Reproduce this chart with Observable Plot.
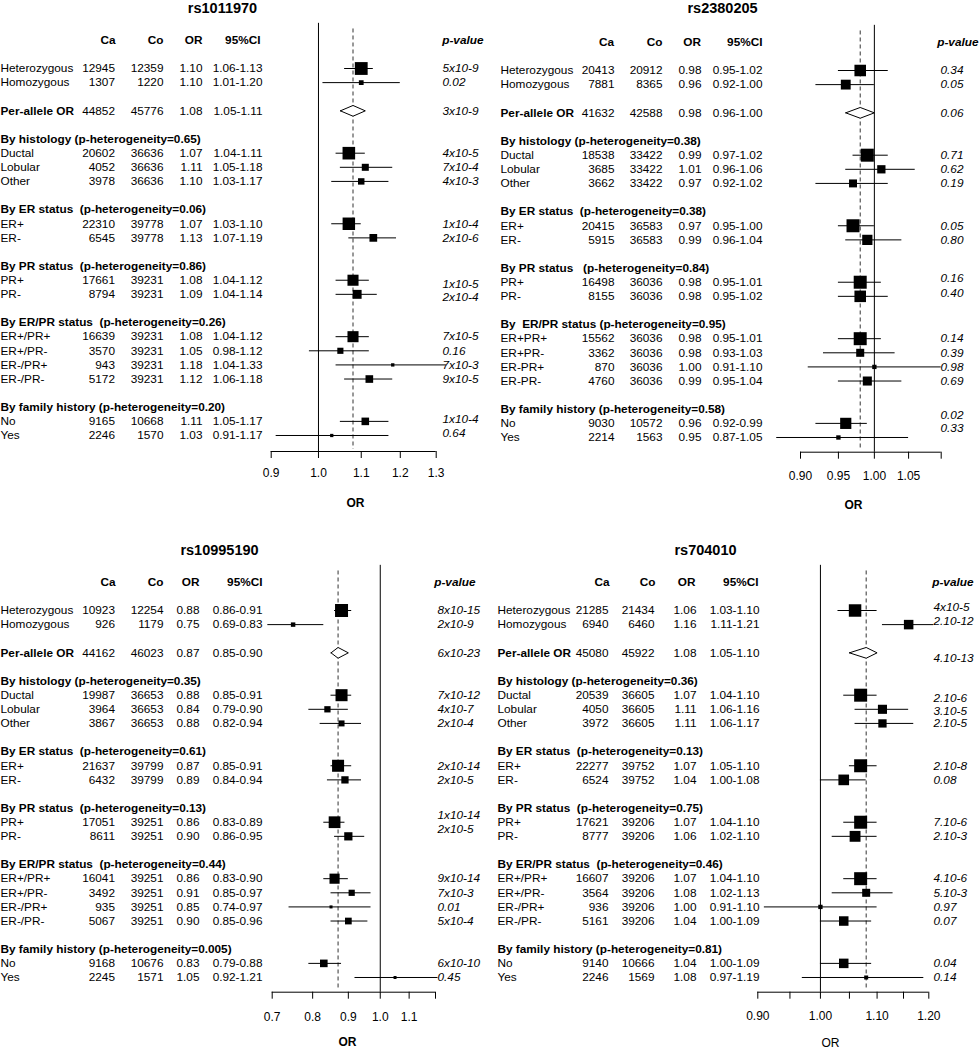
<!DOCTYPE html>
<html>
<head>
<meta charset="utf-8">
<script src="https://cdn.jsdelivr.net/npm/d3@7"></script>
<script src="https://cdn.jsdelivr.net/npm/@observablehq/plot@0.6"></script>
<style>
  body { margin: 0; background: #fff; }
  #root { position: relative; width: 979px; height: 1050px; overflow: hidden; background: #fff; }
  #root svg { position: absolute; }
</style>
</head>
<body>
<div id="root"></div>
<script>
// ---------------- DATA ----------------
// group structure: [Het/Hom], [Per-allele], histology, ER, PR, ER/PR, family history
const groupSizes = [2, 1, 3, 2, 2, 4, 2];

// Panel 1: rs1011970
const snp1 = "rs1011970";
const labels1 = ["Heterozygous","Homozygous","Per-allele OR","Ductal","Lobular","Other","ER+","ER-","PR+","PR-","ER+/PR+","ER+/PR-","ER-/PR+","ER-/PR-","No","Yes"];
const headers1 = ["By histology (p-heterogeneity=0.65)","By ER status\u00a0 (p-heterogeneity=0.06)","By PR status\u00a0 (p-heterogeneity=0.86)","By ER/PR status\u00a0 (p-heterogeneity=0.26)","By family history (p-heterogeneity=0.20)"];
const ca1 = [12945,1307,44852,20602,4052,3978,22310,6545,17661,8794,16639,3570,943,5172,9165,2246];
const co1 = [12359,1220,45776,36636,36636,36636,39778,39778,39231,39231,39231,39231,39231,39231,10668,1570];
const or1 = [1.10,1.10,1.08,1.07,1.11,1.10,1.07,1.13,1.08,1.09,1.08,1.05,1.18,1.12,1.11,1.03];
const lo1 = [1.06,1.01,1.05,1.04,1.05,1.03,1.03,1.07,1.04,1.04,1.04,0.98,1.04,1.06,1.05,0.91];
const hi1 = [1.13,1.20,1.11,1.11,1.18,1.17,1.10,1.19,1.12,1.14,1.12,1.12,1.33,1.18,1.17,1.17];
const p1 = ["5x10-9","0.02","3x10-9","4x10-5","7x10-4","4x10-3","1x10-4","2x10-6","1x10-5","2x10-4","7x10-5","0.16","7x10-3","9x10-5","1x10-4","0.64"];
const ticks1 = [0.9, 1.0, 1.1, 1.2, 1.3];
const tickLabels1 = ["0.9","1.0","1.1","1.2","1.3"];

// Panel 2: rs2380205
const snp2 = "rs2380205";
const labels2 = ["Heterozygous","Homozygous","Per-allele OR","Ductal","Lobular","Other","ER+","ER-","PR+","PR-","ER+PR+","ER+PR-","ER-PR+","ER-PR-","No","Yes"];
const headers2 = ["By histology (p-heterogeneity=0.38)","By ER status\u00a0 (p-heterogeneity=0.38)","By PR status\u00a0\u00a0 (p-heterogeneity=0.84)","By\u00a0 ER/PR status (p-heterogeneity=0.95)","By family history (p-heterogeneity=0.58)"];
const ca2 = [20413,7881,41632,18538,3685,3662,20415,5915,16498,8155,15562,3362,870,4760,9030,2214];
const co2 = [20912,8365,42588,33422,33422,33422,36583,36583,36036,36036,36036,36036,36036,36036,10572,1563];
const or2 = [0.98,0.96,0.98,0.99,1.01,0.97,0.97,0.99,0.98,0.98,0.98,0.98,1.00,0.99,0.96,0.95];
const lo2 = [0.95,0.92,0.96,0.97,0.96,0.92,0.95,0.96,0.95,0.95,0.95,0.93,0.91,0.95,0.92,0.87];
const hi2 = [1.02,1.00,1.00,1.02,1.06,1.02,1.00,1.04,1.01,1.02,1.01,1.03,1.10,1.04,0.99,1.05];
const p2 = ["0.34","0.05","0.06","0.71","0.62","0.19","0.05","0.80","0.16","0.40","0.14","0.39","0.98","0.69","0.02","0.33"];
const ticks2 = [0.90, 0.95, 1.00, 1.05, 1.10];
const tickLabels2 = ["0.90","0.95","1.00","1.05",""];

// Panel 3: rs10995190
const snp3 = "rs10995190";
const labels3 = ["Heterozygous","Homozygous","Per-allele OR","Ductal","Lobular","Other","ER+","ER-","PR+","PR-","ER+/PR+","ER+/PR-","ER-/PR+","ER-/PR-","No","Yes"];
const headers3 = ["By histology (p-heterogeneity=0.35)","By ER status\u00a0 (p-heterogeneity=0.61)","By PR status\u00a0 (p-heterogeneity=0.13)","By ER/PR status\u00a0 (p-heterogeneity=0.44)","By family history (p-heterogeneity=0.005)"];
const ca3 = [10923,926,44162,19987,3964,3867,21637,6432,17051,8611,16041,3492,935,5067,9168,2245];
const co3 = [12254,1179,46023,36653,36653,36653,39799,39799,39251,39251,39251,39251,39251,39251,10676,1571];
const or3 = [0.88,0.75,0.87,0.88,0.84,0.88,0.87,0.89,0.86,0.90,0.86,0.91,0.85,0.90,0.83,1.05];
const lo3 = [0.86,0.69,0.85,0.85,0.79,0.82,0.85,0.84,0.83,0.86,0.83,0.85,0.74,0.85,0.79,0.92];
const hi3 = [0.91,0.83,0.90,0.91,0.90,0.94,0.91,0.94,0.89,0.95,0.90,0.97,0.97,0.96,0.88,1.21];
const p3 = ["8x10-15","2x10-9","6x10-23","7x10-12","4x10-7","2x10-4","2x10-14","2x10-5","1x10-14","2x10-5","9x10-14","7x10-3","0.01","5x10-4","6x10-10","0.45"];
const ticks3 = [0.7, 0.8, 0.9, 1.0, 1.1, 1.2];
const tickLabels3 = ["0.7","0.8","0.9","1.0","1.1",""];

// Panel 4: rs704010
const snp4 = "rs704010";
const labels4 = ["Heterozygous","Homozygous","Per-allele OR","Ductal","Lobular","Other","ER+","ER-","PR+","PR-","ER+/PR+","ER+/PR-","ER-/PR+","ER-/PR-","No","Yes"];
const headers4 = ["By histology (p-heterogeneity=0.36)","By ER status\u00a0 (p-heterogeneity=0.13)","By PR status\u00a0 (p-heterogeneity=0.75)","By ER/PR status\u00a0 (p-heterogeneity=0.46)","By family history (p-heterogeneity=0.81)"];
const ca4 = [21285,6940,45080,20539,4050,3972,22277,6524,17621,8777,16607,3564,936,5161,9140,2246];
const co4 = [21434,6460,45922,36605,36605,36605,39752,39752,39206,39206,39206,39206,39206,39206,10666,1569];
const or4 = [1.06,1.16,1.08,1.07,1.11,1.11,1.07,1.04,1.07,1.06,1.07,1.08,1.00,1.04,1.04,1.08];
const lo4 = [1.03,1.11,1.05,1.04,1.06,1.06,1.05,1.00,1.04,1.02,1.04,1.02,0.91,1.00,1.00,0.97];
const hi4 = [1.10,1.21,1.10,1.10,1.16,1.17,1.10,1.08,1.10,1.10,1.10,1.13,1.10,1.09,1.09,1.19];
const p4 = ["4x10-5","2.10-12","4.10-13","2.10-6","3.10-5","2.10-5","2.10-8","0.08","7.10-6","2.10-3","4.10-6","5.10-3","0.97","0.07","0.04","0.14"];
const ticks4 = [0.90, 0.95, 1.00, 1.05, 1.10, 1.15, 1.20];
const tickLabels4 = ["0.90","","1.00","","1.10","","1.20"];

// ---------------- LAYOUT ----------------
const FONT = '"Liberation Sans", Arial, Helvetica, sans-serif';
const FS = 11.8;
// pNudge: per-row vertical pixel shift of the p-value column (as typeset in the original figure)
const layouts = [
  {left: 0, top: 0, w: 490, h: 542, y0: 68, axisPx: 451, xr: [270.7, 435.7], labOff: 21.7,
   title: [222, 8], orLab: [355, 503], orBold: true,
   cols: {label: 0, ca: 114.5, co: 163, or: 202, ci: 262}, hdr: {ca: 115, co: 163, or: 202, ci: 260},
   pHead: 483, pX: 442, pAnchor: "start",
   pNudge: [0,0,0,0,0,0,0,0,4,3,0,0,0,0,-2,-2]},
  {left: 490, top: 0, w: 489, h: 542, y0: 70, axisPx: 451.7, xr: [310, 450.7], labOff: 24.3,
   title: [232, 8], orLab: [363, 505], orBold: true,
   cols: {label: 10, ca: 124, co: 172, or: 211, ci: 272}, hdr: {ca: 123.5, co: 172, or: 210.5, ci: 272},
   pHead: 488, pX: 473, pAnchor: "end",
   pNudge: [0,0,0,0,0,0,0,0,-4,-3,0,0,0,0,-8,-9]},
  {left: 0, top: 542, w: 490, h: 508, y0: 68, axisPx: 449.7, xr: [271.7, 435], labOff: 25,
   title: [219, 8], orLab: [347, 500], orBold: true,
   cols: {label: 0, ca: 114.5, co: 163, or: 199, ci: 262}, hdr: {ca: 115, co: 163, or: 199, ci: 262},
   pHead: 475, pX: 437, pAnchor: "start",
   pNudge: [0,0,0,0,0,0,0,0,-7,-7,0,0,0,0,0,0]},
  {left: 490, top: 542, w: 489, h: 508, y0: 68, axisPx: 449.7, xr: [267.3, 438.3], labOff: 24.3,
   title: [215, 8], orLab: [340, 500.5], orBold: false,
   cols: {label: 7, ca: 118, co: 164, or: 206, ci: 269}, hdr: {ca: 119, co: 165, or: 205, ci: 268},
   pHead: 483, pX: 443, pAnchor: "start",
   pNudge: [-3,-3,5,3,2,0,0,0,0,0,0,0,0,0,0,0]}
];
const STEP = 14.115;
const TICK = 7;

const panels = [
  {snp: snp1, labels: labels1, headers: headers1, ca: ca1, co: co1, or: or1, lo: lo1, hi: hi1, p: p1, ticks: ticks1, tickLabels: tickLabels1},
  {snp: snp2, labels: labels2, headers: headers2, ca: ca2, co: co2, or: or2, lo: lo2, hi: hi2, p: p2, ticks: ticks2, tickLabels: tickLabels2},
  {snp: snp3, labels: labels3, headers: headers3, ca: ca3, co: co3, or: or3, lo: lo3, hi: hi3, p: p3, ticks: ticks3, tickLabels: tickLabels3},
  {snp: snp4, labels: labels4, headers: headers4, ca: ca4, co: co4, or: or4, lo: lo4, hi: hi4, p: p4, ticks: ticks4, tickLabels: tickLabels4}
];

function buildRows(d) {
  const rows = [], heads = [];
  let r = 0, k = 0;
  groupSizes.forEach((n, g) => {
    if (g >= 2) { heads.push({row: r, text: d.headers[g - 2]}); r++; }
    for (let i = 0; i < n; i++, k++, r++) {
      rows.push({k, row: r, label: d.labels[k], ca: d.ca[k], co: d.co[k], or: d.or[k],
                 lo: d.lo[k], hi: d.hi[k], p: d.p[k], pooled: g === 1});
    }
    r++;
  });
  return {rows, heads, nRows: r - 2};
}

function makePanel(d, L) {
  const {rows, heads, nRows} = buildRows(d);
  const items = rows.filter(r => !r.pooled);
  const pooled = rows.find(r => r.pooled);
  const axisRow = (L.axisPx - L.y0) / STEP;
  const hdrRow = -2;
  const dh = 0.38;
  const diamond = [
    {x: pooled.lo, y: pooled.row}, {x: pooled.or, y: pooled.row - dh},
    {x: pooled.hi, y: pooled.row}, {x: pooled.or, y: pooled.row + dh},
    {x: pooled.lo, y: pooled.row}
  ];
  const tickData = d.ticks.map((t, i) => ({t, label: d.tickLabels[i]}));
  const xDomain = [d.ticks[0], d.ticks[d.ticks.length - 1]];
  const colHead = (txt, dx) => Plot.text([{row: hdrRow}], {y: "row", text: () => txt, frameAnchor: "left", dx, textAnchor: "end", fontWeight: "bold", fontSize: FS});
  const col = (fn, dx) => Plot.text(rows, {y: "row", text: fn, frameAnchor: "left", dx, textAnchor: "end", fontSize: FS});

  const svg = Plot.plot({
    width: L.w, height: L.h,
    marginLeft: 0, marginRight: 0, marginTop: 0, marginBottom: L.h - L.axisPx,
    x: {type: "log", domain: xDomain, range: L.xr, axis: null},
    y: {type: "linear", domain: [0, nRows], range: [L.y0, L.y0 + nRows * STEP], axis: null},
    r: {type: "linear", domain: [0, 15.85], range: [0, 13 / Math.sqrt(Math.PI)], clamp: true},
    style: {fontFamily: FONT, fontSize: "12px", color: "black", background: "white", overflow: "visible"},
    marks: [
      // title
      Plot.text([d.snp], {frameAnchor: "top-left", dx: L.title[0], dy: L.title[1], lineAnchor: "middle", textAnchor: "middle", fontWeight: "bold", fontSize: 14.5}),
      // column headers
      colHead("Ca", L.hdr.ca), colHead("Co", L.hdr.co), colHead("OR", L.hdr.or), colHead("95%CI", L.hdr.ci),
      Plot.text([{row: hdrRow}], {y: "row", text: () => "p-value", frameAnchor: "left", dx: L.pHead, textAnchor: "end", fontWeight: "bold", fontStyle: "italic", fontSize: FS}),
      // row labels
      Plot.text(items, {y: "row", text: "label", frameAnchor: "left", dx: L.cols.label, textAnchor: "start", fontSize: FS}),
      Plot.text([pooled], {y: "row", text: "label", frameAnchor: "left", dx: L.cols.label, textAnchor: "start", fontWeight: "bold", fontSize: FS}),
      Plot.text(heads, {y: "row", text: "text", frameAnchor: "left", dx: L.cols.label, textAnchor: "start", fontWeight: "bold", fontSize: FS}),
      // numeric columns
      col(r => String(r.ca), L.cols.ca),
      col(r => String(r.co), L.cols.co),
      col(r => r.or.toFixed(2), L.cols.or),
      col(r => r.lo.toFixed(2) + "-" + r.hi.toFixed(2), L.cols.ci),
      // p-values
      Plot.text(rows, {y: r => r.row + L.pNudge[r.k] / STEP, text: "p", frameAnchor: "left", dx: L.pX, textAnchor: L.pAnchor, fontStyle: "italic", fontSize: FS}),
      // reference lines
      Plot.ruleX([1], {y1: -3.2, y2: axisRow, stroke: "black", strokeWidth: 1}),
      Plot.ruleX([pooled.or], {y1: -2.8, y2: axisRow - 0.15, stroke: "#333", strokeWidth: 1, strokeDasharray: "4,3"}),
      // axis line, ticks, tick labels
      Plot.ruleY([axisRow], {x1: xDomain[0], x2: xDomain[1], stroke: "black", strokeWidth: 1}),
      Plot.ruleX(tickData, {x: "t", y1: axisRow, y2: axisRow + TICK / STEP, stroke: "black", strokeWidth: 1}),
      Plot.text(tickData, {x: "t", y: () => axisRow + L.labOff / STEP, text: "label", textAnchor: "middle", lineAnchor: "middle", fontSize: 12}),
      // axis label
      Plot.text(["OR"], {frameAnchor: "top-left", dx: L.orLab[0], dy: L.orLab[1], lineAnchor: "middle", textAnchor: "middle", fontWeight: L.orBold ? "bold" : "normal", fontSize: 12}),
      // CIs and boxes
      Plot.ruleY(items, {y: "row", x1: "lo", x2: "hi", stroke: "black", strokeWidth: 1}),
      Plot.dot(items, {x: "or", y: "row", r: r => 1 / Math.log(r.hi / r.lo), symbol: "square", fill: "black", stroke: "none"}),
      // pooled diamond
      Plot.line(diamond, {x: "x", y: "y", fill: "white", stroke: "black", strokeWidth: 1, curve: "linear"})
    ]
  });
  svg.style.left = L.left + "px";
  svg.style.top = L.top + "px";
  return svg;
}

const root = document.getElementById("root");
panels.forEach((d, i) => root.appendChild(makePanel(d, layouts[i])));
</script>
</body>
</html>
